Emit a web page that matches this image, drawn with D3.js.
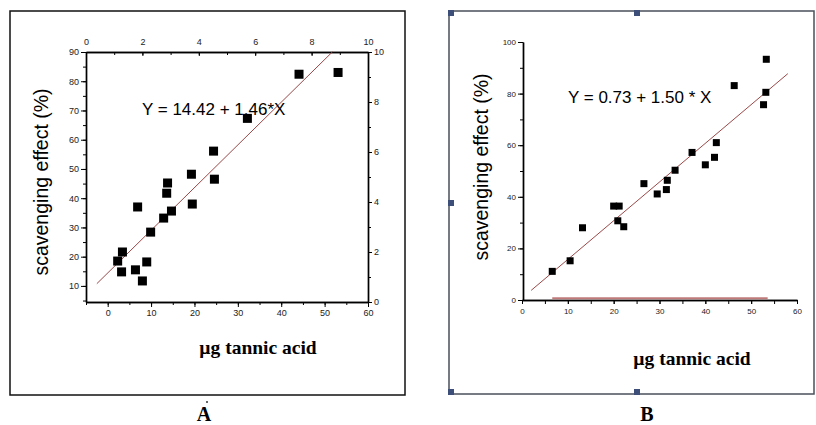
<!DOCTYPE html>
<html>
<head>
<meta charset="utf-8">
<script src="https://cdn.jsdelivr.net/npm/d3@7"></script>
<style>
  body { margin: 0; background: #fff; }
  svg { display: block; }
</style>
</head>
<body>
<svg id="chart" width="816" height="425"></svg>
<script>
// Panel A: µg tannic acid vs scavenging effect (%)
const aX = [44.1, 53.1, 32.2, 24.4, 24.6, 19.3, 13.8, 13.6, 6.9, 19.5, 14.7, 12.9, 9.9, 3.4, 2.3, 3.2, 6.4, 9.0, 8.0];
const aY = [82.4, 83.0, 67.3, 56.1, 46.5, 48.2, 45.2, 41.7, 37.0, 38.0, 35.6, 33.2, 28.4, 21.6, 18.5, 14.8, 15.5, 18.2, 11.7];
const aFit = { intercept: 14.42, slope: 1.46, from: -2.5, to: 51.8 };
const aBottomTicks = [0, 10, 20, 30, 40, 50, 60];
const aLeftTicks = [10, 20, 30, 40, 50, 60, 70, 80, 90];
const aTopTicks = [0, 2, 4, 6, 8, 10];
const aRightTicks = [0, 2, 4, 6, 8, 10];

// Panel B
const bX = [53.3, 46.3, 53.2, 52.7, 42.4, 37.1, 42.0, 40.0, 33.4, 31.7, 26.6, 31.5, 29.5, 20.0, 21.2, 20.9, 22.2, 13.2, 10.5, 6.6];
const bY = [93.3, 83.1, 80.5, 75.7, 61.0, 57.2, 55.3, 52.4, 50.3, 46.4, 45.1, 42.8, 41.1, 36.4, 36.4, 30.7, 28.4, 28.0, 15.2, 11.1];
const bFit = { intercept: 0.73, slope: 1.50, from: 2, to: 58 };
const bBase = { y: 0.7, from: 6.6, to: 53.6 };
const bBottomTicks = [0, 10, 20, 30, 40, 50, 60];
const bLeftTicks = [0, 20, 40, 60, 80, 100];

const SANS = "'Liberation Sans', Arial, sans-serif";
const SERIF = "'Liberation Serif', 'Times New Roman', serif";
const FIT_COLOR = "#9a4848";

const svg = d3.select("#chart");

// draws a minor axis (no labels) and a labelled major axis on top
function drawAxis(parent, gen, scale, major, minor, pos, opt) {
    const minorG = parent.append("g")
        .attr("transform", `translate(${pos[0]},${pos[1]})`)
        .call(gen(scale).tickValues(minor).tickFormat("").tickSize(opt.minorSize).tickSizeOuter(0));
    const majorG = parent.append("g")
        .attr("transform", `translate(${pos[0]},${pos[1]})`)
        .call(gen(scale).tickValues(major).tickSize(opt.size).tickSizeOuter(0).tickPadding(opt.pad || 2));
    [minorG, majorG].forEach(g => {
        g.select(".domain").attr("stroke", "#000").attr("stroke-width", 1.4);
        g.selectAll(".tick line").attr("stroke", "#000").attr("stroke-width", 1);
    });
    majorG.selectAll(".tick text")
        .attr("fill", "#222")
        .style("font-family", SANS)
        .style("font-size", opt.font + "px");
    return majorG;
}

function drawFit(g, x, y, fit) {
    g.append("line")
        .attr("x1", x(fit.from)).attr("y1", y(fit.intercept + fit.slope * fit.from))
        .attr("x2", x(fit.to)).attr("y2", y(fit.intercept + fit.slope * fit.to))
        .attr("stroke", FIT_COLOR).attr("stroke-width", 1);
}

function drawPoints(g, x, y, xs, ys, size) {
    g.selectAll("rect.pt")
        .data(xs.map((v, i) => [v, ys[i]]))
        .enter().append("rect")
        .attr("class", "pt")
        .attr("x", d => x(d[0]) - size / 2)
        .attr("y", d => y(d[1]) - size / 2)
        .attr("width", size).attr("height", size)
        .attr("fill", "#000");
}

// ---------- Panel A ----------
const gA = svg.append("g");
gA.append("rect")
    .attr("x", 10).attr("y", 11).attr("width", 395).attr("height", 384)
    .attr("fill", "none").attr("stroke", "#111").attr("stroke-width", 1.5);

const axA = d3.scaleLinear().domain([-5, 60]).range([86, 368]);
const ayA = d3.scaleLinear().domain([4.5, 90]).range([302, 52]);
const axTopA = d3.scaleLinear().domain([0, 10]).range([86, 368]);
const ayRightA = d3.scaleLinear().domain([0, 10]).range([302, 52]);

drawAxis(gA, d3.axisBottom, axA, aBottomTicks, d3.range(-5, 61, 5), [0, 302], { size: 5, minorSize: 3, font: 9, pad: 3 });
drawAxis(gA, d3.axisLeft, ayA, aLeftTicks, d3.range(5, 91, 5), [86, 0], { size: 5, minorSize: 3, font: 9, pad: 2 });
drawAxis(gA, d3.axisTop, axTopA, aTopTicks, d3.range(0, 11, 1), [0, 52], { size: -4, minorSize: -3, font: 9, pad: 7 });
drawAxis(gA, d3.axisRight, ayRightA, aRightTicks, d3.range(0, 11, 1), [368, 0], { size: 4, minorSize: 3, font: 9, pad: 2 });

drawFit(gA, axA, ayA, aFit);
drawPoints(gA, axA, ayA, aX, aY, 9);

gA.append("text")
    .attr("x", 142).attr("y", 115)
    .style("font-family", SANS).style("font-size", "17px")
    .text("Y = 14.42 + 1.46*X");

gA.append("text")
    .attr("transform", "translate(48,182) rotate(-90)")
    .attr("text-anchor", "middle")
    .style("font-family", SANS).style("font-size", "19.5px")
    .text("scavenging effect (%)");

gA.append("text")
    .attr("x", 258).attr("y", 354)
    .attr("text-anchor", "middle")
    .style("font-family", SERIF).style("font-size", "19.5px").style("font-weight", "bold")
    .text("µg tannic acid");

svg.append("text")
    .attr("x", 204).attr("y", 421)
    .attr("text-anchor", "middle")
    .style("font-family", SERIF).style("font-size", "20px").style("font-weight", "bold")
    .text("A");
svg.append("circle").attr("cx", 207).attr("cy", 402).attr("r", 1).attr("fill", "#333");

// ---------- Panel B ----------
const gB = svg.append("g");
gB.append("rect")
    .attr("x", 449).attr("y", 11).attr("width", 365).attr("height", 383)
    .attr("fill", "none").attr("stroke", "#4a4f5a").attr("stroke-width", 1.5);

const axB = d3.scaleLinear().domain([0, 60]).range([522, 797]);
const ayB = d3.scaleLinear().domain([0, 100]).range([300, 42]);

drawAxis(gB, d3.axisBottom, axB, bBottomTicks, d3.range(0, 61, 5), [0, 300], { size: 4, minorSize: 4, font: 8, pad: 4 });
drawAxis(gB, d3.axisLeft, ayB, bLeftTicks, d3.range(0, 101, 10), [523, 0], { size: 5, minorSize: 3, font: 8, pad: 2 });

gB.append("line")
    .attr("x1", axB(bBase.from)).attr("x2", axB(bBase.to))
    .attr("y1", ayB(bBase.y)).attr("y2", ayB(bBase.y))
    .attr("stroke", "#c07a7a").attr("stroke-width", 2);

drawFit(gB, axB, ayB, bFit);
drawPoints(gB, axB, ayB, bX, bY, 7);

gB.append("text")
    .attr("x", 568).attr("y", 103)
    .style("font-family", SANS).style("font-size", "17px")
    .text("Y = 0.73 + 1.50 * X");

gB.append("text")
    .attr("transform", "translate(488,167) rotate(-90)")
    .attr("text-anchor", "middle")
    .style("font-family", SANS).style("font-size", "19.5px")
    .text("scavenging effect (%)");

gB.append("text")
    .attr("x", 692).attr("y", 365)
    .attr("text-anchor", "middle")
    .style("font-family", SERIF).style("font-size", "19.5px").style("font-weight", "bold")
    .text("µg tannic acid");

svg.append("text")
    .attr("x", 647).attr("y", 421)
    .attr("text-anchor", "middle")
    .style("font-family", SERIF).style("font-size", "20px").style("font-weight", "bold")
    .text("B");

// selection handles on frame B
const handles = [[451, 13], [637, 13], [451, 203], [451, 392], [637, 392]];
svg.selectAll("rect.handle")
    .data(handles)
    .enter().append("rect")
    .attr("class", "handle")
    .attr("x", d => d[0] - 3).attr("y", d => d[1] - 3)
    .attr("width", 6).attr("height", 6)
    .attr("fill", "#3d4f78");
</script>
</body>
</html>
